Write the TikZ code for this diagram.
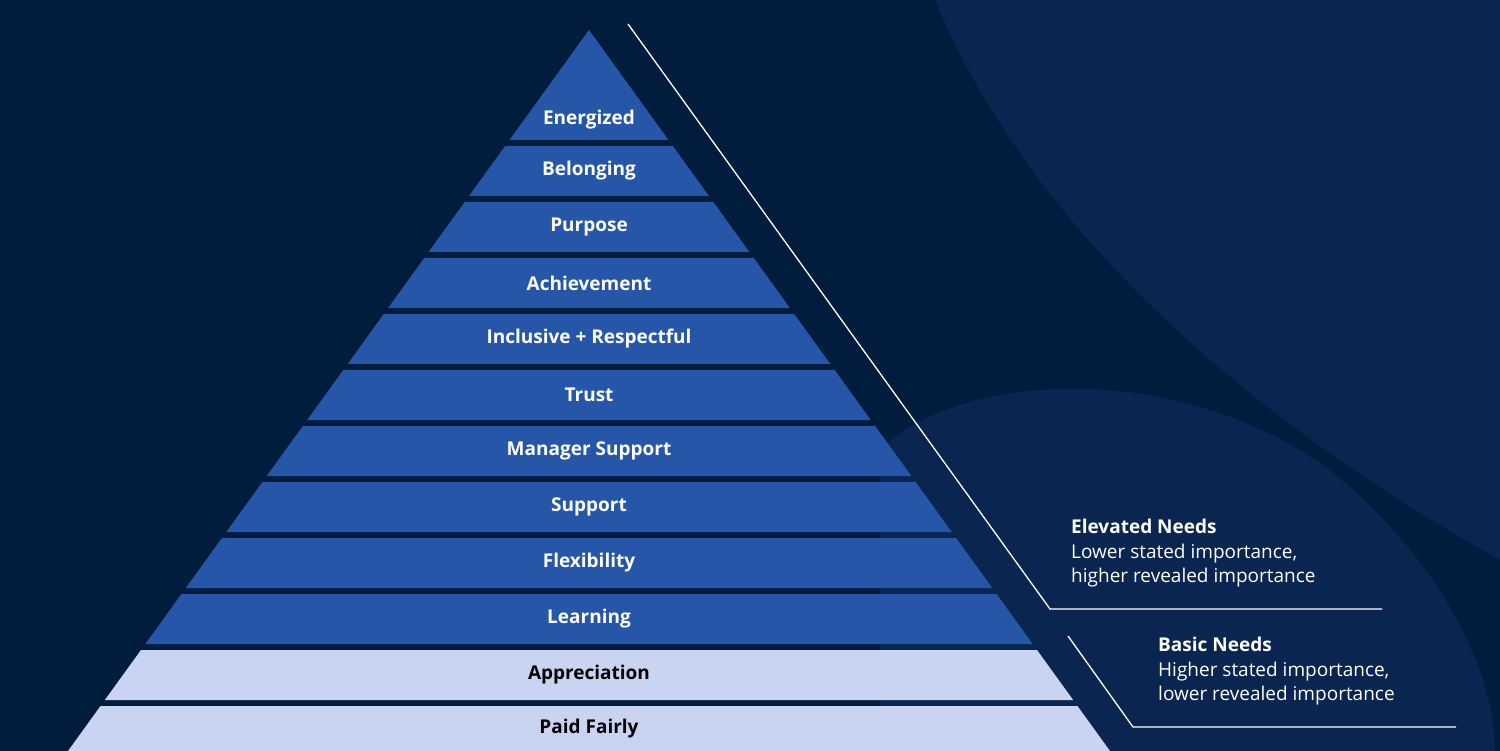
\documentclass[tikz,border=0pt]{standalone}
\usepackage{fontspec}
\setmainfont{Open Sans}
\usetikzlibrary{positioning}
\definecolor{navy}{HTML}{021C3E}
\definecolor{navylight}{HTML}{0A2650}
\definecolor{bandblue}{HTML}{2656A8}
\definecolor{bandlight}{HTML}{C9D4F2}
\tikzset{
  band/.style={fill=bandblue},
  lband/.style={fill=bandlight},
  lbl/.style={font=\bfseries\fontsize{19}{22}\selectfont, text=white},
  dlbl/.style={font=\bfseries\fontsize{19}{22}\selectfont, text=black},
  rule/.style={draw=white, line width=1.3pt},
  note/.style={anchor=north west, align=left, text=white, inner sep=0pt,
    font=\fontsize{19}{24.5}\selectfont}
}
% half width of the pyramid at height y
\newcommand{\hw}[1]{(0.7226*(#1-30))}
\begin{document}
\begin{tikzpicture}[x=1pt,y=-1pt]
\fill[navy] (0,0) rectangle (1500,751);
\fill[navylight] (935,0) .. controls (1030,230) and (1250,420) .. (1500,560) -- (1500,0) -- cycle;
\fill[navylight] (880,450) .. controls (960,370) and (1180,360) .. (1330,470)
  .. controls (1440,560) and (1495,670) .. (1495,751) -- (880,751) -- cycle;
\useasboundingbox (0,0) rectangle (1500,751);
% top triangle
\fill[band] (589,30) -- ({589+\hw{140}},140) -- ({589-\hw{140}},140) -- cycle;
\node[lbl] (t0) at (589,120) {Energized};
% bands
\foreach \top/\txt/\st/\ls/\nm in {
  146/Belonging/band/lbl/t1, 202/Purpose/band/lbl/t2, 258/Achievement/band/lbl/t3,
  314/Inclusive + Respectful/band/lbl/t4, 370/Trust/band/lbl/t5,
  426/Manager Support/band/lbl/t6, 482/Support/band/lbl/t7,
  538/Flexibility/band/lbl/t8, 594/Learning/band/lbl/t9,
  650/Appreciation/lband/dlbl/t10}{
  \pgfmathsetmacro{\bot}{\top+50}
  \fill[\st] ({589-\hw{\top}},\top) -- ({589+\hw{\top}},\top)
    -- ({589+\hw{\bot}},\bot) -- ({589-\hw{\bot}},\bot) -- cycle;
  \node[\ls] (\nm) at (589,\top+25) {\txt};
}
\fill[lband] ({589-\hw{706}},706) -- ({589+\hw{706}},706)
  -- ({589+\hw{760}},760) -- ({589-\hw{760}},760) -- cycle;
\node[dlbl] (t11) at (589,729) {Paid Fairly};
% side rules
\coordinate (e1) at (628,24);
\coordinate (e2) at (1050,609);
\coordinate (e3) at (1382,609);
\coordinate (b1) at (1068,636);
\coordinate (b2) at (1133,727);
\coordinate (b3) at (1456,727);
\draw[rule] (e1) -- (e2) -- (e3);
\draw[rule] (b1) -- (b2) -- (b3);
\node[note] (elev) at (1071,519) {\textbf{Elevated Needs}\\Lower stated importance,\\higher revealed importance};
\node[note] (basic) at (1158,637) {\textbf{Basic Needs}\\Higher stated importance,\\lower revealed importance};
\end{tikzpicture}
\end{document}
